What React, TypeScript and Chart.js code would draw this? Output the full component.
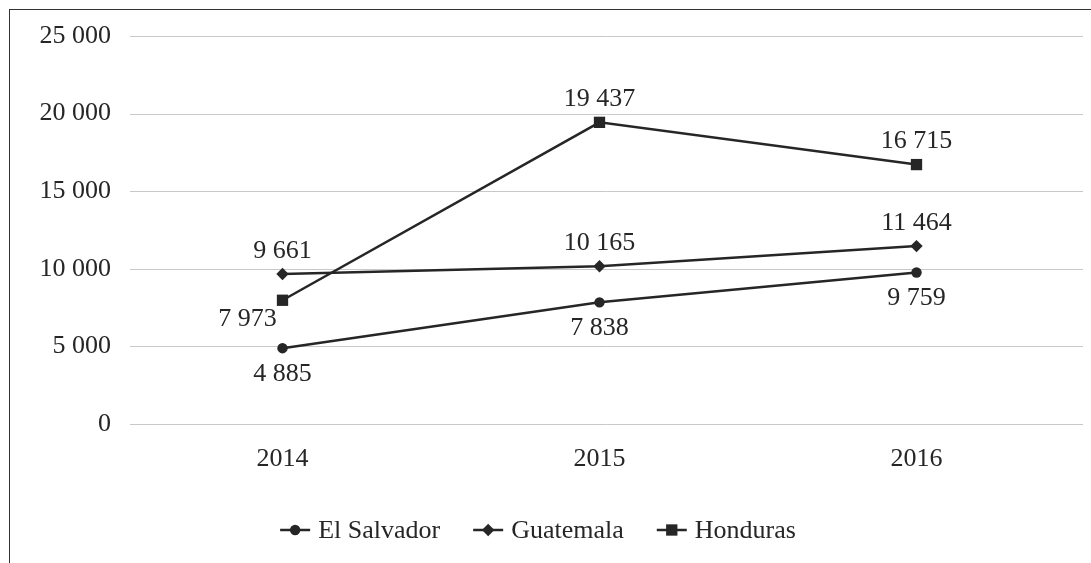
import React, { useEffect, useRef } from 'react';
import { Chart, registerables } from 'chart.js';

Chart.register(...registerables);

const years = ['2014', '2015', '2016'];
const elSalvador = [4885, 7838, 9759];
const guatemala = [9661, 10165, 11464];
const honduras = [7973, 19437, 16715];
const seriesNames = ['El Salvador', 'Guatemala', 'Honduras'];
const yMin = 0;
const yMax = 25000;
const yStep = 5000;

const INK = '#262626';
const GRID = '#c8c8c8';
const FONT = '"Liberation Serif", "Times New Roman", serif';
const FONT_SIZE = 26;

const fmt = (v: number) => String(v).replace(/\B(?=(\d{3})+(?!\d))/g, ' ');

const OFFSETS: Record<string, [number, number]> = {
  above: [0, -23],
  below: [0, 26],
  belowLeft: [-35, 19],
};

// horizontal grid lines drawn from the y scale's ticks, slightly extended to the right
const gridPlugin = {
  id: 'hGrid',
  beforeDatasetsDraw(chart: any) {
    const ctx = chart.ctx;
    const y = chart.scales.y;
    const { left, right } = chart.chartArea;
    ctx.save();
    ctx.strokeStyle = GRID;
    ctx.lineWidth = 1;
    y.ticks.forEach((t: any) => {
      const py = Math.round(y.getPixelForValue(t.value)) + 0.5;
      ctx.beginPath();
      ctx.moveTo(left + 6, py);
      ctx.lineTo(right + 8, py);
      ctx.stroke();
    });
    ctx.restore();
  },
};

const pointLabelPlugin = {
  id: 'pointLabels',
  afterDatasetsDraw(chart: any) {
    const ctx = chart.ctx;
    ctx.save();
    ctx.font = `${FONT_SIZE}px ${FONT}`;
    ctx.fillStyle = INK;
    ctx.textAlign = 'center';
    ctx.textBaseline = 'middle';
    chart.data.datasets.forEach((ds: any, i: number) => {
      const meta = chart.getDatasetMeta(i);
      meta.data.forEach((pt: any, j: number) => {
        const off = OFFSETS[ds.labelPos[j]];
        ctx.fillText(fmt(ds.data[j]), pt.x + off[0], pt.y + off[1]);
      });
    });
    ctx.restore();
  },
};

function drawMarker(ctx: CanvasRenderingContext2D, style: string, x: number, y: number, r: number) {
  ctx.beginPath();
  if (style === 'circle') {
    ctx.arc(x, y, r, 0, Math.PI * 2);
  } else if (style === 'rectRot') {
    ctx.moveTo(x - r, y);
    ctx.lineTo(x, y - r);
    ctx.lineTo(x + r, y);
    ctx.lineTo(x, y + r);
    ctx.closePath();
  } else {
    const s = r * Math.SQRT1_2;
    ctx.rect(x - s, y - s, 2 * s, 2 * s);
  }
  ctx.fill();
}

const legendPlugin = {
  id: 'lineLegend',
  afterDraw(chart: any) {
    const ctx: CanvasRenderingContext2D = chart.ctx;
    ctx.save();
    ctx.font = `${FONT_SIZE}px ${FONT}`;
    ctx.textBaseline = 'middle';
    ctx.textAlign = 'left';
    const lineW = 30;
    const gapText = 8;
    const gapItem = 33;
    const items = chart.data.datasets.map((ds: any) => ({
      ds,
      w: lineW + gapText + ctx.measureText(ds.label).width,
    }));
    const total = items.reduce((a: number, it: any) => a + it.w, 0) + gapItem * (items.length - 1);
    const cx = chart.width / 2 - 13;
    const y = chart.height - 34;
    let x = cx - total / 2;
    items.forEach((it: any) => {
      const ds = it.ds;
      ctx.strokeStyle = INK;
      ctx.fillStyle = INK;
      ctx.lineWidth = 2.5;
      ctx.beginPath();
      ctx.moveTo(x, y);
      ctx.lineTo(x + lineW, y);
      ctx.stroke();
      drawMarker(ctx, ds.pointStyle, x + lineW / 2, y, ds.pointRadius);
      ctx.fillText(ds.label, x + lineW + gapText, y + 1);
      x += it.w + gapItem;
    });
    ctx.restore();
  },
};

export default function App() {
  const ref = useRef<HTMLCanvasElement | null>(null);

  useEffect(() => {
    if (!ref.current) return;
    const common = {
      borderColor: INK,
      backgroundColor: INK,
      pointBackgroundColor: INK,
      pointBorderColor: INK,
      borderWidth: 2.5,
      pointBorderWidth: 0,
      tension: 0,
    };
    const chart = new Chart(ref.current, {
      type: 'line',
      data: {
        labels: years,
        datasets: [
          { ...common, label: seriesNames[0], data: elSalvador, pointStyle: 'circle', pointRadius: 5.2, labelPos: ['below', 'below', 'below'] } as any,
          { ...common, label: seriesNames[1], data: guatemala, pointStyle: 'rectRot', pointRadius: 6.2, labelPos: ['above', 'above', 'above'] } as any,
          { ...common, label: seriesNames[2], data: honduras, pointStyle: 'rect', pointRadius: 8, labelPos: ['belowLeft', 'above', 'above'] } as any,
        ],
      },
      options: {
        animation: false,
        responsive: true,
        maintainAspectRatio: false,
        layout: { padding: { left: 0, right: 17, top: 26, bottom: 90 } },
        plugins: {
          legend: { display: false },
          tooltip: { enabled: false },
        },
        scales: {
          x: {
            offset: true,
            grid: { display: false, drawTicks: false },
            border: { display: false },
            ticks: {
              color: INK,
              font: { family: FONT, size: FONT_SIZE },
              padding: 20,
              maxRotation: 0,
            },
            afterFit: (s: any) => {
              s.height = 50;
              s.paddingLeft = 0;
              s.paddingRight = 0;
            },
          },
          y: {
            min: yMin,
            max: yMax,
            grid: { display: false, drawTicks: false },
            border: { display: false },
            ticks: {
              stepSize: yStep,
              color: INK,
              font: { family: FONT, size: FONT_SIZE },
              padding: 13,
              callback: (v: any) => fmt(Number(v)),
            },
            afterFit: (s: any) => {
              s.width = 114;
              s.paddingTop = 0;
              s.paddingBottom = 0;
            },
          },
        },
      },
      plugins: [gridPlugin, pointLabelPlugin, legendPlugin],
    });
    return () => chart.destroy();
  }, []);

  return (
    <div
      style={{
        position: 'fixed',
        left: 9,
        top: 9,
        width: 1082,
        height: 554,
        borderLeft: '1px solid #333',
        borderTop: '1px solid #333',
        background: '#fff',
      }}
    >
      <canvas ref={ref} />
    </div>
  );
}
